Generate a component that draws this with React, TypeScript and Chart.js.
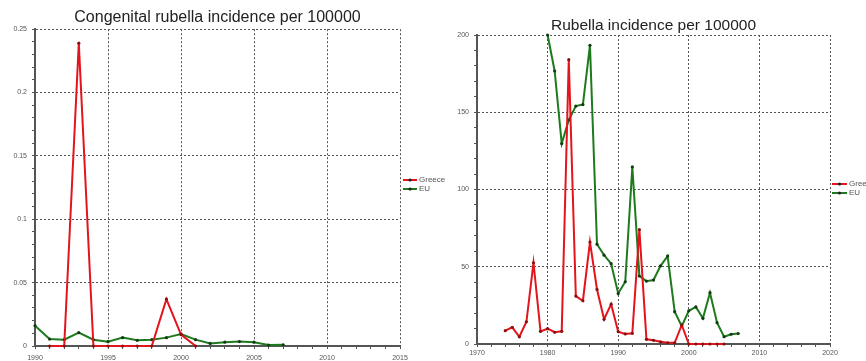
import React, { useEffect, useRef } from 'react';
import { Chart, registerables } from 'chart.js';

Chart.register(...registerables);

// ---- Congenital rubella (left chart) ----
const congEUYears = [1990, 1991, 1992, 1993, 1994, 1995, 1996, 1997, 1998, 1999, 2000, 2001, 2002, 2003, 2004, 2005, 2006, 2007];
const congEU = [0.016, 0.0055, 0.005, 0.0105, 0.005, 0.0034, 0.0066, 0.0045, 0.005, 0.0066, 0.0095, 0.005, 0.002, 0.003, 0.0035, 0.003, 0.0008, 0.001];
const congGreeceYears = [1991, 1992, 1993, 1994, 1995, 1996, 1997, 1998, 1999, 2000, 2001];
const congGreece = [0, 0, 0.239, 0, 0, 0, 0, 0, 0.037, 0.009, 0];
const congXLabels = [1990, 1995, 2000, 2005, 2010, 2015];
const congYLabels = [0, 0.05, 0.1, 0.15, 0.2, 0.25];

// ---- Rubella (right chart) ----
const rubGreeceYears = [1974, 1975, 1976, 1977, 1978, 1979, 1980, 1981, 1982, 1983, 1984, 1985, 1986, 1987, 1988, 1989, 1990, 1991, 1992, 1993, 1994, 1995, 1996, 1997, 1998, 1999, 2000, 2001, 2002, 2003, 2004, 2005];
const rubGreece = [8.6, 10.8, 4.7, 14.4, 52.6, 8.2, 9.9, 7.6, 8.2, 184, 31, 28, 66, 35.3, 16, 25.8, 8, 6.5, 6.9, 74, 3, 2.4, 1.4, 0.8, 0.8, 12.3, 0, 0, 0, 0, 0, 0];
const rubEUYears = [1980, 1981, 1982, 1983, 1984, 1985, 1986, 1987, 1988, 1989, 1990, 1991, 1992, 1993, 1994, 1995, 1996, 1997, 1998, 1999, 2000, 2001, 2002, 2003, 2004, 2005, 2006, 2007];
const rubEU = [200, 176.7, 129.7, 145, 154, 155, 193.3, 64.6, 57.5, 52, 32.7, 40.3, 114.6, 44, 40.7, 41.4, 50.6, 56.9, 20.9, 11.6, 21.5, 24, 16.6, 33.2, 13.8, 4.7, 6.3, 6.8];
const rubXLabels = [1970, 1980, 1990, 2000, 2010, 2020];
const rubYLabels = [0, 50, 100, 150, 200];

const FONT = '"Liberation Sans", Arial, sans-serif';
const RED = '#e3141b';
const GREEN = '#1d7a1d';

const isMajor = (v: number, labels: number[]) => labels.some((l) => Math.abs(l - v) < 1e-9);

const sideLegend = {
  id: 'sideLegend',
  afterDraw(chart: any, _args: any, opts: any) {
    const ctx = chart.ctx;
    ctx.save();
    chart.data.datasets.forEach((ds: any, i: number) => {
      const y = opts.y + i * opts.gap;
      ctx.strokeStyle = ds.borderColor;
      ctx.lineWidth = 2;
      ctx.beginPath();
      ctx.moveTo(opts.x, y);
      ctx.lineTo(opts.x + opts.len, y);
      ctx.stroke();
      ctx.fillStyle = '#222';
      ctx.beginPath();
      ctx.arc(opts.x + opts.len / 2, y, 1.6, 0, Math.PI * 2);
      ctx.fill();
      ctx.fillStyle = '#555';
      ctx.font = '8px ' + FONT;
      ctx.textAlign = 'left';
      ctx.textBaseline = 'middle';
      ctx.fillText(ds.label, opts.x + opts.len + 2, y);
    });
    ctx.restore();
  },
};

function makeScales(o: any) {
  const gridColor = (labels: number[]) => (c: any) =>
    c.tick && isMajor(c.tick.value, labels) ? '#555' : 'rgba(0,0,0,0)';
  return {
    x: {
      type: 'linear',
      min: o.xMin,
      max: o.xMax,
      z: 1,
      afterFit: (s: any) => { s.height = o.xHeight; },
      ticks: {
        stepSize: o.xStep,
        autoSkip: false,
        maxRotation: 0,
        padding: o.xPad,
        color: '#555',
        font: { size: 7, family: FONT },
        callback: (v: number) => (isMajor(v, o.xLabels) ? String(Math.round(v)) : ''),
      },
      grid: {
        color: gridColor(o.xLabels),
        tickColor: '#555',
        tickLength: 3,
        lineWidth: 1,
      },
      border: { color: '#555', width: 2, dash: [2, 2] },
    },
    y: {
      type: 'linear',
      min: o.yMin,
      max: o.yMax,
      afterFit: (s: any) => { s.width = o.yWidth; },
      ticks: {
        stepSize: o.yStep,
        autoSkip: false,
        padding: 5,
        color: '#555',
        font: { size: 7, family: FONT },
        callback: (v: number) => (isMajor(v, o.yLabels) ? String(Number(v.toFixed(2))) : ''),
      },
      grid: {
        color: gridColor(o.yLabels),
        tickColor: '#555',
        tickLength: 3,
        lineWidth: 1,
      },
      border: { color: '#555', width: 2, dash: [2, 2] },
    },
  };
}

function lineDs(label: string, xs: number[], ys: number[], color: string, ptColor: string) {
  return {
    label,
    data: xs.map((x, i) => ({ x, y: ys[i] })),
    borderColor: color,
    backgroundColor: color,
    borderWidth: 2,
    pointRadius: 1.6,
    pointHoverRadius: 1.6,
    pointBackgroundColor: ptColor,
    pointBorderWidth: 0,
    tension: 0,
    clip: 4,
  };
}

function ChartCanvas({ config, width, height, left }: any) {
  const ref = useRef<HTMLCanvasElement>(null);
  useEffect(() => {
    if (!ref.current) return;
    const chart = new Chart(ref.current, config);
    return () => chart.destroy();
  }, []);
  return (
    <canvas
      ref={ref}
      width={width}
      height={height}
      style={{ position: 'absolute', left, top: 0, width, height }}
    />
  );
}

export default function App() {
  const leftConfig: any = {
    type: 'line',
    data: {
      datasets: [
        lineDs('Greece', congGreeceYears, congGreece, RED, '#8a1010'),
        lineDs('EU', congEUYears, congEU, GREEN, '#133a13'),
      ],
    },
    options: {
      animation: false,
      responsive: false,
      events: [],
      layout: { padding: { left: 0, right: 50, top: 0, bottom: 0 } },
      scales: makeScales({
        xMin: 1990, xMax: 2015, xStep: 1, xLabels: congXLabels, xHeight: 15, xPad: 5,
        yMin: 0, yMax: 0.25, yStep: 0.01, yLabels: congYLabels, yWidth: 35,
      }),
      plugins: {
        legend: { display: false },
        tooltip: { enabled: false },
        title: {
          display: true,
          text: 'Congenital rubella incidence per 100000',
          fullSize: false,
          color: '#222',
          font: { size: 16, family: FONT, weight: 'normal' },
          padding: { top: 8, bottom: 2 },
        },
        sideLegend: { x: 403, y: 180, gap: 9, len: 14 },
      },
    },
    plugins: [sideLegend],
  };

  const rightConfig: any = {
    type: 'line',
    data: {
      datasets: [
        lineDs('Greece', rubGreeceYears, rubGreece, RED, '#8a1010'),
        lineDs('EU', rubEUYears, rubEU, GREEN, '#133a13'),
      ],
    },
    options: {
      animation: false,
      responsive: false,
      events: [],
      layout: { padding: { left: 0, right: 36, top: 0, bottom: 0 } },
      scales: makeScales({
        xMin: 1970, xMax: 2020, xStep: 2, xLabels: rubXLabels, xHeight: 17, xPad: 2,
        yMin: 0, yMax: 200, yStep: 10, yLabels: rubYLabels, yWidth: 44,
      }),
      plugins: {
        legend: { display: false },
        tooltip: { enabled: false },
        title: {
          display: true,
          text: 'Rubella incidence per 100000',
          fullSize: false,
          color: '#222',
          font: { size: 15.5, family: FONT, weight: 'normal' },
          padding: { top: 16, bottom: 0.4 },
        },
        sideLegend: { x: 399, y: 184, gap: 9, len: 15 },
      },
    },
    plugins: [sideLegend],
  };

  return (
    <div style={{ position: 'absolute', left: 0, top: 0, width: 866, height: 361, background: '#fff', overflow: 'hidden' }}>
      <ChartCanvas config={leftConfig} width={450} height={361} left={0} />
      <ChartCanvas config={rightConfig} width={433} height={361} left={433} />
    </div>
  );
}
